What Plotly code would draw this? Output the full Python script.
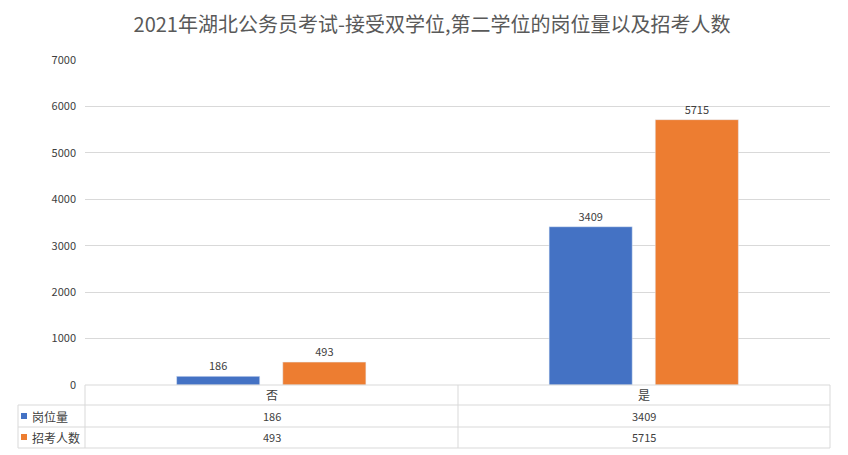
import plotly.graph_objects as go

categories = ["否", "是"]
series_names = ["岗位量", "招考人数"]
post_counts = [186, 3409]
recruit_counts = [493, 5715]
colors = ["#4472C4", "#ED7D31"]
title = "2021年湖北公务员考试-接受双学位,第二学位的岗位量以及招考人数"

W, H = 848, 455
OFF = 8  # page body margin
L, R, T, B = 85 - OFF, 830 - OFF, 60 - OFF, 385 - OFF
def px(x): return (x - OFF - L) / (R - L)
def py(y): return (B - (y - OFF)) / (B - T)

fig = go.Figure()
for name, vals, c in zip(series_names, [post_counts, recruit_counts], colors):
    fig.add_bar(x=categories, y=vals, name=name, marker_color=c,
                text=[str(v) for v in vals], textposition="outside",
                textfont=dict(size=11, color="#404040"), cliponaxis=False)

shapes = []
line = dict(color="#d9d9d9", width=1)
for yy in [385, 405, 427, 448]:
    x0 = 85 if yy == 385 else 18
    shapes.append(dict(type="line", xref="paper", yref="paper", x0=px(x0), x1=px(830), y0=py(yy), y1=py(yy), line=line))
for xx, y0 in [(18, 405), (85, 385), (458, 385), (830, 385)]:
    shapes.append(dict(type="line", xref="paper", yref="paper", x0=px(xx), x1=px(xx), y0=py(y0), y1=py(448), line=line))

ann = []
rows_y = [416, 437]
for i, (name, vals, c) in enumerate(zip(series_names, [post_counts, recruit_counts], colors)):
    yy = rows_y[i]
    shapes.append(dict(type="rect", xref="paper", yref="paper", x0=px(21), x1=px(27), y0=py(yy - 3), y1=py(yy + 3), fillcolor=c, line=dict(width=0)))
    ann.append(dict(x=px(30), y=py(yy), xref="paper", yref="paper", text=name, showarrow=False,
                    xanchor="left", yanchor="middle", font=dict(size=12, color="#404040")))
    for j, v in enumerate(vals):
        cx = (85 + 458) / 2 if j == 0 else (458 + 830) / 2
        ann.append(dict(x=px(cx), y=py(yy), xref="paper", yref="paper", text=str(v), showarrow=False,
                        xanchor="center", yanchor="middle", font=dict(size=11, color="#404040")))
for j, cat in enumerate(categories):
    cx = (85 + 458) / 2 if j == 0 else (458 + 830) / 2
    ann.append(dict(x=px(cx), y=py(395), xref="paper", yref="paper", text=cat, showarrow=False,
                    xanchor="center", yanchor="middle", font=dict(size=12, color="#404040")))

fig.update_layout(
    width=W, height=H, margin=dict(l=L, r=W - R, t=T, b=H - B),
    paper_bgcolor="white", plot_bgcolor="white", showlegend=False,
    font=dict(family="Noto Sans CJK SC, sans-serif", color="#404040"),
    title=dict(text=title, x=0.5, xanchor="center", y=1 - 17 / H, yanchor="middle", font=dict(size=20, color="#595959")),
    bargap=0.43, bargroupgap=0.217,
    xaxis=dict(showticklabels=False, showline=False),
    yaxis=dict(range=[0, 7000], dtick=1000, gridcolor="#d9d9d9", zeroline=False,
               tickfont=dict(size=11, color="#404040"), ticklabelstandoff=8),
    shapes=shapes, annotations=ann,
)
fig.write_html("out.html")
